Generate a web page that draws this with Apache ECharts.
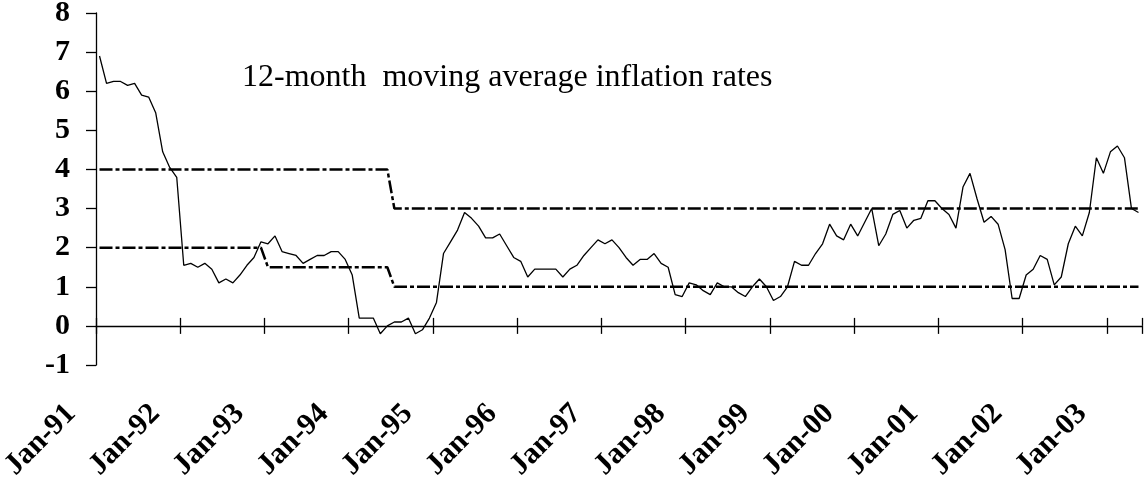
<!DOCTYPE html>
<html>
<head>
<meta charset="utf-8">
<script src="https://cdn.jsdelivr.net/npm/echarts@6/dist/echarts.min.js"></script>
<style>
  html, body { margin: 0; padding: 0; background: #fff; }
  #main { width: 1145px; height: 480px; }
</style>
</head>
<body>
<div id="main"></div>
<script>
// categories: Jan-91 .. May-03, monthly
var monthNames = ["Jan", "Feb", "Mar", "Apr", "May", "Jun", "Jul", "Aug", "Sep", "Oct", "Nov", "Dec"];
var years = ["91", "92", "93", "94", "95", "96", "97", "98", "99", "00", "01", "02", "03"];
var months = [];
years.forEach(function (y) {
  monthNames.forEach(function (m) {
    months.push(m + "-" + y);
  });
});
months = months.slice(0, 149);

// 12-month moving average inflation
var inflation = [
  6.9, 6.2, 6.25, 6.25, 6.15, 6.2, 5.9, 5.85, 5.45, 4.45, 4.05, 3.8,
  1.55, 1.6, 1.5, 1.6, 1.45, 1.1, 1.2, 1.1, 1.3, 1.55, 1.75, 2.15,
  2.1, 2.3, 1.9, 1.85, 1.8, 1.6, 1.7, 1.8, 1.8, 1.9, 1.9, 1.7,
  1.3, 0.2, 0.2, 0.2, -0.2, 0, 0.1, 0.1, 0.2, -0.2, -0.1, 0.2,
  0.6, 1.85, 2.15, 2.45, 2.9, 2.75, 2.55, 2.25, 2.25, 2.35, 2.05, 1.75,
  1.65, 1.25, 1.45, 1.45, 1.45, 1.45, 1.25, 1.45, 1.55, 1.8, 2.0, 2.2,
  2.1, 2.2, 2.0, 1.75, 1.55, 1.7, 1.7, 1.85, 1.6, 1.5, 0.8, 0.75,
  1.1, 1.05, 0.9, 0.8, 1.1, 1.0, 1.0, 0.85, 0.75, 1.0, 1.2, 1.0,
  0.65, 0.75, 1.0, 1.65, 1.55, 1.55, 1.85, 2.1, 2.6, 2.3, 2.2, 2.6,
  2.3, 2.65, 3.0, 2.05, 2.35, 2.85, 2.95, 2.5, 2.7, 2.75, 3.2, 3.2,
  3.0, 2.85, 2.5, 3.55, 3.9, 3.25, 2.65, 2.8, 2.6, 1.95, 0.7, 0.7,
  1.3, 1.45, 1.8, 1.7, 1.05, 1.25, 2.1, 2.55, 2.3, 2.9, 4.3, 3.9,
  4.45, 4.6, 4.3, 3.0, 2.9
];

// target band limits (step points)
var upperBand = [["Jan-91", 4], ["Jun-94", 4], ["Jul-94", 3], ["May-03", 3]];
var lowerBand = [["Jan-91", 2], ["Dec-92", 2], ["Jan-93", 1.5], ["Jun-94", 1.5], ["Jul-94", 1], ["May-03", 1]];

var yTicks = [-1, 0, 1, 2, 3, 4, 5, 6, 7, 8];
var titleText = "12-month  moving average inflation rates";

var myChart = echarts.init(document.getElementById("main"));
var bandStyle = { color: "#000", width: 2.5, type: [13, 3, 4, 3] };
var gridBox = {
  left: 96,
  right: 3,
  top: 13,
  bottom: 115,
  containLabel: false,
  outerBoundsMode: "none",
};
var option = {
  animation: false,
  backgroundColor: "#fff",
  title: {
    text: titleText,
    left: 242,
    top: 62,
    padding: 0,
    textStyle: {
      fontFamily: "Liberation Serif",
      fontSize: 32,
      fontWeight: "normal",
      color: "#000",
    },
  },
  // second grid only carries the upward half of the x ticks
  grid: [gridBox, Object.assign({}, gridBox)],
  xAxis: [
    {
      type: "category",
      gridIndex: 0,
      data: months,
      boundaryGap: true,
      axisLine: { onZero: true, lineStyle: { color: "#000", width: 1.3 } },
      axisTick: { show: true, interval: 11, length: 8, lineStyle: { color: "#000", width: 1.3 } },
      axisLabel: {
        interval: 11,
        rotate: 45,
        margin: 16,
        padding: [0, 40, 0, 0],
        color: "#000",
        fontFamily: "Liberation Serif",
        fontWeight: "bold",
        fontSize: 30,
      },
      splitLine: { show: false },
    },
    {
      type: "category",
      gridIndex: 1,
      data: months,
      boundaryGap: true,
      axisLine: { show: true, onZero: true, lineStyle: { opacity: 0 } },
      axisTick: { show: true, inside: true, interval: 11, length: 8, lineStyle: { color: "#000", width: 1.3 } },
      axisLabel: { show: false },
      splitLine: { show: false },
    },
  ],
  yAxis: [
    {
      type: "value",
      gridIndex: 0,
      min: yTicks[0],
      max: yTicks[yTicks.length - 1],
      interval: 1,
      axisLine: { show: true, lineStyle: { color: "#000", width: 1.3 } },
      axisTick: { show: true, length: 10, lineStyle: { color: "#000", width: 1.3 } },
      axisLabel: {
        margin: 26,
        color: "#000",
        fontFamily: "Liberation Serif",
        fontWeight: "bold",
        fontSize: 30,
      },
      splitLine: { show: false },
    },
    {
      type: "value",
      gridIndex: 1,
      min: yTicks[0],
      max: yTicks[yTicks.length - 1],
      interval: 1,
      axisLine: { show: false },
      axisTick: { show: false },
      axisLabel: { show: false },
      splitLine: { show: false },
    },
  ],
  series: [
    {
      name: "inflation",
      type: "line",
      data: inflation,
      showSymbol: false,
      symbol: "none",
      lineStyle: { color: "#000", width: 1.3 },
    },
    {
      name: "upper",
      type: "line",
      data: upperBand,
      showSymbol: false,
      symbol: "none",
      lineStyle: bandStyle,
    },
    {
      name: "lower",
      type: "line",
      data: lowerBand,
      showSymbol: false,
      symbol: "none",
      lineStyle: bandStyle,
    },
  ],
};
myChart.setOption(option);
</script>
</body>
</html>
